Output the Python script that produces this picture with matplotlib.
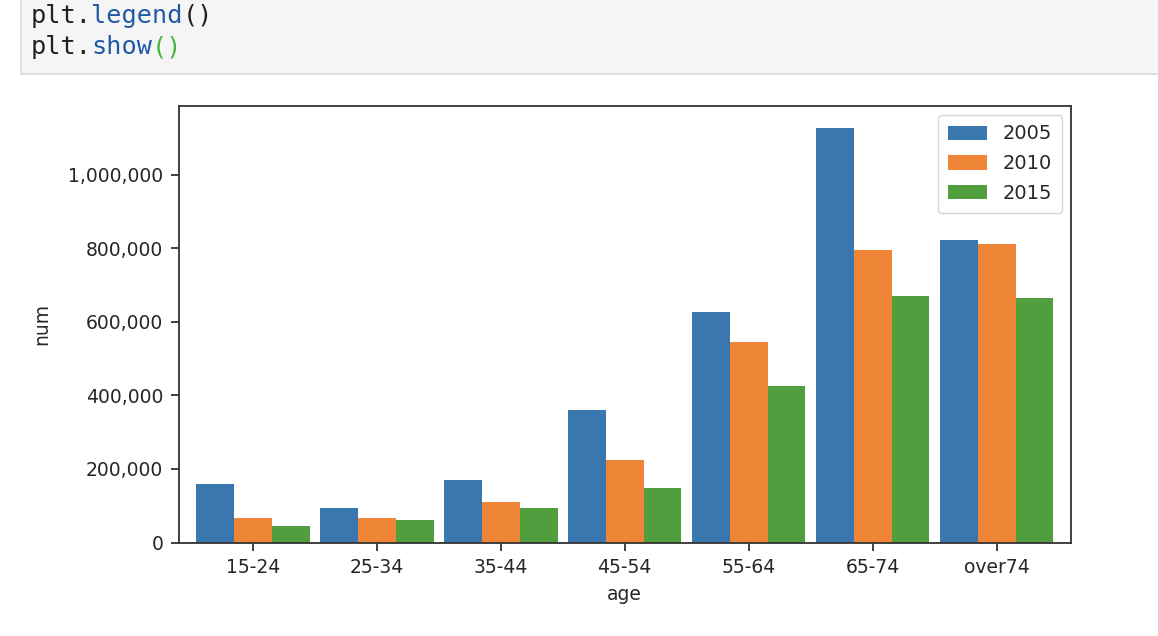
import matplotlib
matplotlib.use("Agg")
import matplotlib.pyplot as plt
import matplotlib.ticker as mticker
import matplotlib.patches as mpatches
import numpy as np

ages = ["15-24", "25-34", "35-44", "45-54", "55-64", "65-74", "over74"]
years = ["2005", "2010", "2015"]
num_2005 = [158000, 93000, 170000, 360000, 627000, 1126000, 822000]
num_2010 = [66000, 66000, 110000, 224000, 545000, 795000, 811000]
num_2015 = [44000, 61000, 93000, 148000, 425000, 670000, 665000]
series = [num_2005, num_2010, num_2015]
colors = ["#3a77af", "#ef8637", "#519e3f"]

W, H = 1158, 636
fig = plt.figure(figsize=(W / 100, H / 100), dpi=100)
fig.patch.set_facecolor("white")

# --- notebook code cell (top) ---
box = mpatches.Rectangle((20.5 / W, 1 - 74 / H), 1.2, 0.5, transform=fig.transFigure,
                         facecolor="#f5f5f5", edgecolor="#e0e0e0", linewidth=1.5, zorder=0)
fig.patches.append(box)

code_lines = [
    [("plt.", "#212121"), ("legend", "#1f5aa6"), ("()", "#212121")],
    [("plt.", "#212121"), ("show", "#1f5aa6"), ("()", "#44b53c")],
]
char_w = 15.2
x0 = 30.5
baselines = [22.5, 54.0]
fs_code = char_w / 0.602 * 72 / 100
for line, base in zip(code_lines, baselines):
    idx = 0
    for tok, col in line:
        fig.text((x0 + idx * char_w) / W, 1 - base / H, tok, family="DejaVu Sans Mono",
                 fontsize=fs_code, color=col, ha="left", va="baseline")
        idx += len(tok)

# --- chart ---
ax = fig.add_axes([178.5 / W, 1 - 542.5 / H, (1071 - 178.5) / W, (542.5 - 106) / H])
n = len(ages)
x = np.arange(n)
bw = 0.305
for i, (vals, yr, c) in enumerate(zip(series, years, colors)):
    ax.bar(x + (i - 1) * bw, vals, width=bw, color=c, label=yr, linewidth=0)

ax.set_xlim(-0.6, n - 1 + 0.6)
ax.set_ylim(0, 1187000)
ax.set_xticks(x)
ax.set_xticklabels(ages)
ax.set_yticks([0, 200000, 400000, 600000, 800000, 1000000])
ax.yaxis.set_major_formatter(mticker.StrMethodFormatter("{x:,.0f}"))

tc = "#262626"
fs = 13.5
ax.tick_params(axis="both", labelsize=fs, colors="#333333", labelcolor=tc, length=6, width=1.3, pad=5)
for s in ax.spines.values():
    s.set_linewidth(1.3)
    s.set_color("#333333")
ax.set_xlabel("age", fontsize=fs, color=tc, labelpad=6)
ax.set_ylabel("num", fontsize=fs, color=tc, labelpad=12)

leg = ax.legend(fontsize=fs + 0.5, loc="upper right", handlelength=2.0, handleheight=0.75,
                borderpad=0.5, labelspacing=0.55, handletextpad=0.85, borderaxespad=0.45)
for t in leg.get_texts():
    t.set_color(tc)

fig.savefig("out.png", dpi=100)
